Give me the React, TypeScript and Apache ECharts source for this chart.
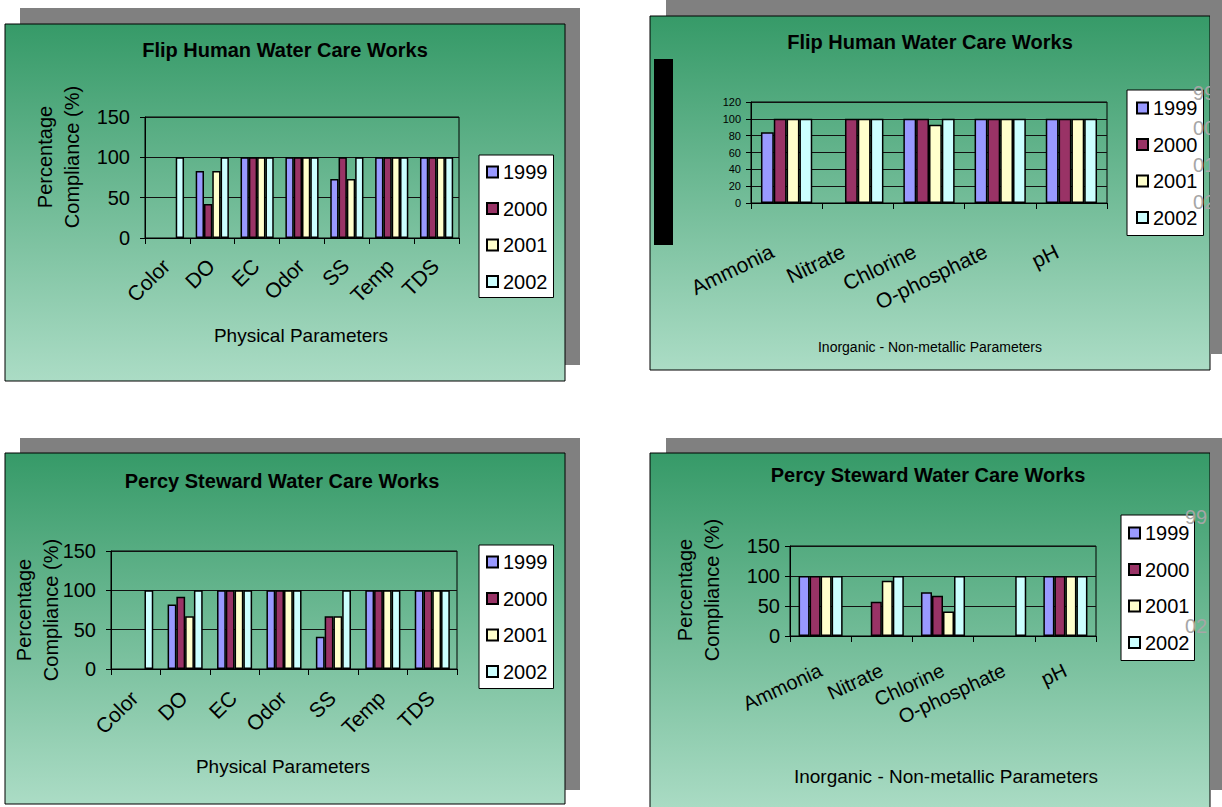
import React, { useEffect, useRef } from "react";
import * as echarts from "echarts";

const physicalCategories = ["Color", "DO", "EC", "Odor", "SS", "Temp", "TDS"];
const inorganicCategories = ["Ammonia", "Nitrate", "Chlorine", "O-phosphate", "pH"];
const years = ["1999", "2000", "2001", "2002"];
const yearColors = ["#9999FF", "#993366", "#FFFFCC", "#CCFFFF"];

// Flip Human – physical parameters
const flipPhys1999 = [null, 83, 100, 100, 73, 100, 100];
const flipPhys2000 = [null, 42, 100, 100, 100, 100, 100];
const flipPhys2001 = [null, 83, 100, 100, 73, 100, 100];
const flipPhys2002 = [100, 100, 100, 100, 100, 100, 100];

// Flip Human – inorganic
const flipInorg1999 = [84, null, 100, 100, 100];
const flipInorg2000 = [100, 100, 100, 100, 100];
const flipInorg2001 = [100, 100, 93, 100, 100];
const flipInorg2002 = [100, 100, 100, 100, 100];

// Percy Steward – physical parameters
const percyPhys1999 = [null, 82, 100, 100, 41, 100, 100];
const percyPhys2000 = [null, 92, 100, 100, 67, 100, 100];
const percyPhys2001 = [null, 67, 100, 100, 67, 100, 100];
const percyPhys2002 = [100, 100, 100, 100, 100, 100, 100];

// Percy Steward – inorganic
const percyInorg1999 = [100, null, 73, null, 100];
const percyInorg2000 = [100, 57, 67, null, 100];
const percyInorg2001 = [100, 92, 41, null, 100];
const percyInorg2002 = [100, 100, 100, 100, 100];

const yTicks150 = { min: 0, max: 150, interval: 50 };
const yTicks120 = { min: 0, max: 120, interval: 20 };

const FONT = "Liberation Sans, Arial, sans-serif";

export default function App() {
  const ref = useRef<HTMLDivElement>(null);

  useEffect(() => {
    if (!ref.current) return;
    const chart = echarts.init(ref.current, null, { renderer: "svg" });

    const gradient = {
      type: "linear",
      x: 0,
      y: 0,
      x2: 0,
      y2: 1,
      colorStops: [
        { offset: 0, color: "#369a68" },
        { offset: 1, color: "#abdcc5" },
      ],
    };

    const grids = [
      { left: 145, top: 117, width: 314, height: 121 },
      { left: 751, top: 102, width: 356, height: 101 },
      { left: 111, top: 551, width: 346, height: 118 },
      { left: 790, top: 546, width: 306, height: 90 },
    ].map((g) => ({
      ...g,
      show: true,
      borderColor: "#000",
      borderWidth: 1,
      backgroundColor: "transparent",
      containLabel: false,
      outerBoundsMode: "none",
    }));

    const xAxis = (
      gridIndex: number,
      data: string[],
      rotate: number,
      margin: number,
      fontSize: number,
      padRight: number
    ) => ({
      type: "category",
      gridIndex,
      data,
      boundaryGap: true,
      axisLine: { show: true, lineStyle: { color: "#000", width: 1 } },
      axisTick: { show: true, length: 6, alignWithLabel: false, lineStyle: { color: "#000" } },
      axisLabel: {
        interval: 0,
        rotate,
        margin,
        fontSize,
        color: "#000",
        fontFamily: FONT,
        hideOverlap: false,
        padding: [0, padRight, 0, 0],
      },
      splitLine: { show: false },
    });

    const yAxis = (gridIndex: number, ticks: any, margin: number, fontSize: number) => ({
      type: "value",
      gridIndex,
      ...ticks,
      axisLine: { show: true, lineStyle: { color: "#000", width: 1 } },
      axisTick: { show: true, length: 5, lineStyle: { color: "#000" } },
      axisLabel: { margin, fontSize, color: "#000", fontFamily: FONT },
      splitLine: { show: true, lineStyle: { color: "#111", width: 1 } },
    });

    const chartData = [
      [flipPhys1999, flipPhys2000, flipPhys2001, flipPhys2002],
      [flipInorg1999, flipInorg2000, flipInorg2001, flipInorg2002],
      [percyPhys1999, percyPhys2000, percyPhys2001, percyPhys2002],
      [percyInorg1999, percyInorg2000, percyInorg2001, percyInorg2002],
    ];
    const catGaps = ["26%", "28%", "29%", "28%"];

    const series: any[] = [];
    chartData.forEach((sets, ci) => {
      sets.forEach((vals, yi) => {
        series.push({
          type: "bar",
          name: years[yi],
          xAxisIndex: ci,
          yAxisIndex: ci,
          data: vals,
          barGap: "0%",
          barCategoryGap: catGaps[ci],
          itemStyle: { color: yearColors[yi], borderColor: "#000", borderWidth: 1.5 },
          emphasis: { disabled: true },
        });
      });
    });

    const legend = (left: number, top: number, padding: number[], gap: number) => ({
      orient: "vertical",
      left,
      top,
      data: years.map((y) => ({ name: y, icon: "rect" })),
      selectedMode: false,
      backgroundColor: "#fff",
      borderColor: "#000",
      borderWidth: 1,
      borderRadius: 0,
      padding,
      itemWidth: 11,
      itemHeight: 11,
      itemGap: 16.5,
      itemTextGap: gap,
      textStyle: { fontSize: 20, lineHeight: 20, color: "#000", fontFamily: FONT },
    });

    const txt = (x: number, y: number, text: string, fontSize: number, opts: any = {}) => ({
      type: "text",
      x,
      y,
      rotation: opts.rotation || 0,
      z: opts.z ?? 5,
      style: {
        text,
        fill: opts.fill || "#000",
        fontSize,
        fontFamily: FONT,
        fontWeight: opts.bold ? "bold" : "normal",
        align: opts.align || "center",
        verticalAlign: "middle",
        lineHeight: opts.lineHeight,
      },
    });

    const rect = (x: number, y: number, w: number, h: number, style: any, z: number) => ({
      type: "rect",
      shape: { x, y, width: w, height: h },
      style,
      z,
      silent: true,
    });

    const graphic: any[] = [
      // shadows
      rect(20, 8, 560, 357, { fill: "#808080" }, -30),
      rect(666, 0, 560, 354, { fill: "#808080" }, -30),
      rect(20, 438, 560, 352, { fill: "#808080" }, -30),
      rect(666, 438, 560, 352, { fill: "#808080" }, -30),
      // panels
      rect(5, 24, 560, 357, { fill: gradient, stroke: "#000", lineWidth: 1 }, -20),
      rect(650, 16, 560, 354, { fill: gradient, stroke: "#000", lineWidth: 1 }, -20),
      rect(5, 453, 560, 351, { fill: gradient, stroke: "#000", lineWidth: 1 }, -20),
      rect(650, 453, 560, 360, { fill: gradient, stroke: "#000", lineWidth: 1 }, -20),
      // black bar artifact
      rect(654, 59, 19, 186, { fill: "#000" }, -10),
      // titles
      txt(285, 50, "Flip Human Water Care Works", 20, { bold: true }),
      txt(930, 42, "Flip Human Water Care Works", 20, { bold: true }),
      txt(282, 481, "Percy Steward Water Care Works", 20, { bold: true }),
      txt(928, 475, "Percy Steward Water Care Works", 20, { bold: true }),
      // axis names
      txt(301, 335, "Physical Parameters", 19),
      txt(930, 347, "Inorganic - Non-metallic Parameters", 14),
      txt(283, 766, "Physical Parameters", 19),
      txt(946, 776, "Inorganic - Non-metallic Parameters", 19),
      txt(58.5, 157, "Percentage\nCompliance (%)", 20, { rotation: Math.PI / 2, lineHeight: 27 }),
      txt(37.5, 610, "Percentage\nCompliance (%)", 20, { rotation: Math.PI / 2, lineHeight: 27 }),
      txt(698, 590, "Percentage\nCompliance (%)", 20, { rotation: Math.PI / 2, lineHeight: 27 }),
      // stray grey labels
      txt(1193, 93, "99", 20, { align: "left", fill: "#a6a6a6", z: 20 }),
      txt(1193, 128, "00", 20, { align: "left", fill: "#a6a6a6", z: 20 }),
      txt(1193, 165, "01", 20, { align: "left", fill: "#a6a6a6", z: 20 }),
      txt(1193, 202, "02", 20, { align: "left", fill: "#a6a6a6", z: 20 }),
      txt(1185, 517, "99", 20, { align: "left", fill: "#a6a6a6", z: 20 }),
      txt(1185, 626, "02", 20, { align: "left", fill: "#a6a6a6", z: 20 }),
      // shadow strips on top
      rect(1210, 0, 12, 354, { fill: "#808080" }, 30),
      rect(1210, 438, 12, 352, { fill: "#808080" }, 30),
    ];

    chart.setOption({
      animation: false,
      grid: grids,
      xAxis: [
        xAxis(0, physicalCategories, 45, 23, 21, 2),
        xAxis(1, inorganicCategories, 26, 40, 21, 16),
        xAxis(2, physicalCategories, 45, 24, 21, 2),
        xAxis(3, inorganicCategories, 25, 33, 20, 0),
      ],
      yAxis: [
        yAxis(0, yTicks150, 15, 20),
        yAxis(1, yTicks120, 10, 11),
        yAxis(2, yTicks150, 15, 20),
        yAxis(3, yTicks150, 10, 20),
      ],
      legend: [
        legend(479, 155, [7, 6, 6, 7], 8),
        legend(1127, 90, [8, 6, 8, 9], 8),
        legend(479, 545, [7, 6, 7, 7], 8),
        legend(1121, 515, [8, 5, 8, 7], 9),
      ],
      graphic: { elements: graphic },
      series,
    });

    return () => chart.dispose();
  }, []);

  return (
    <div
      ref={ref}
      style={{ position: "absolute", left: 0, top: 0, width: 1222, height: 807, background: "#fff" }}
    />
  );
}
